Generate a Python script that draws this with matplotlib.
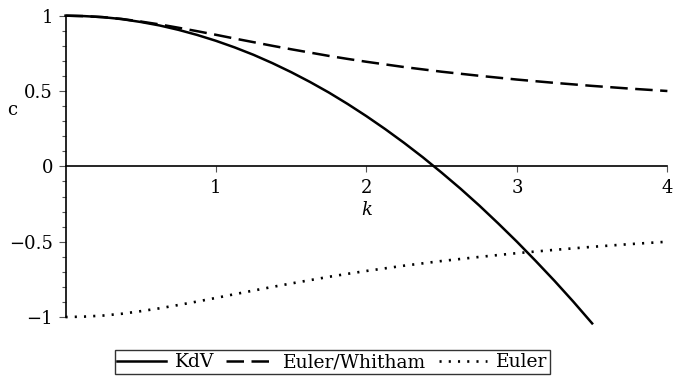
import matplotlib
matplotlib.use("Agg")
import matplotlib.pyplot as plt
from matplotlib.ticker import MultipleLocator

plt.rcParams['font.family'] = ['DejaVu Serif']

# values
k_kdv = [0.0, 0.125, 0.25, 0.375, 0.5, 0.625, 0.75, 0.875, 1.0, 1.125, 1.25, 1.375,
         1.5, 1.625, 1.75, 1.875, 2.0, 2.125, 2.25, 2.375, 2.5, 2.625, 2.75, 2.875,
         3.0, 3.125, 3.25, 3.375, 3.5]
c_kdv = [1.0, 0.997, 0.990, 0.977, 0.958, 0.935, 0.906, 0.872, 0.833, 0.789, 0.740,
         0.685, 0.625, 0.560, 0.490, 0.414, 0.333, 0.247, 0.156, 0.060, -0.042,
         -0.148, -0.260, -0.378, -0.500, -0.628, -0.760, -0.898, -1.042]

k_wave = [0.0, 0.125, 0.25, 0.375, 0.5, 0.625, 0.75, 0.875, 1.0, 1.125, 1.25, 1.375,
          1.5, 1.625, 1.75, 1.875, 2.0, 2.25, 2.5, 2.75, 3.0, 3.25, 3.5, 3.75, 4.0]
c_whitham = [1.0, 0.997, 0.990, 0.978, 0.961, 0.942, 0.920, 0.897, 0.873, 0.848,
             0.824, 0.800, 0.777, 0.755, 0.733, 0.713, 0.694, 0.659, 0.628, 0.601,
             0.576, 0.554, 0.534, 0.516, 0.500]
c_euler = [-1.0, -0.997, -0.990, -0.978, -0.961, -0.942, -0.920, -0.897, -0.873, -0.848,
           -0.824, -0.800, -0.777, -0.755, -0.733, -0.713, -0.694, -0.659, -0.628, -0.601,
           -0.576, -0.554, -0.534, -0.516, -0.500]

xticks = [1, 2, 3, 4]
yticks = [-1, -0.5, 0, 0.5, 1]
ytick_labels = ['\u22121', '\u22120.5', '0', '0.5', '1']

fig = plt.figure(figsize=(6.74, 3.82), dpi=100)
ax = fig.add_axes([0.0972, 0.170, 0.893, 0.789])

ax.plot(k_kdv, c_kdv, color='black', lw=1.8, label='KdV', clip_on=False)
ax.plot(k_wave, c_whitham, color='black', lw=1.8, dashes=(7, 3), label='Euler/Whitham',
        clip_on=False)
ax.plot(k_wave, c_euler, color='black', lw=1.9, dashes=(0.8, 2.7), label='Euler',
        clip_on=False)

ax.set_xlim(0, 4)
ax.set_ylim(-1, 1)

# maple style axes through the origin
ax.spines['left'].set_position(('data', 0))
ax.spines['bottom'].set_position(('data', 0))
ax.spines['top'].set_visible(False)
ax.spines['right'].set_visible(False)
for s in ['left', 'bottom']:
    ax.spines[s].set_linewidth(1.2)

ax.set_xticks(xticks)
ax.set_xticklabels([str(t) for t in xticks])
ax.set_yticks(yticks)
ax.set_yticklabels(ytick_labels)
ax.yaxis.set_minor_locator(MultipleLocator(0.1))
ax.tick_params(axis='x', direction='out', length=4, width=0.8, color='#555555',
               labelsize=13, pad=5)
ax.tick_params(axis='y', which='major', direction='out', length=5, width=0.8,
               color='#555555', labelsize=13, pad=4)
ax.tick_params(axis='y', which='minor', direction='out', length=3, width=0.8,
               color='#555555')

ax.text(2, -0.29, 'k', style='italic', fontsize=13, ha='center', va='center')
ax.text(-0.089, 0.373, 'c', fontsize=13, ha='center', va='center',
        transform=ax.get_yaxis_transform())

leg = fig.legend(loc='center', bbox_to_anchor=(0.493, 0.052), ncol=3, fontsize=13.5,
                 frameon=True, fancybox=False, handlelength=2.6, handletextpad=0.45,
                 columnspacing=0.65, borderpad=0.15, borderaxespad=0)
leg.get_frame().set_edgecolor('black')
leg.get_frame().set_linewidth(1.0)

fig.savefig('out.png', dpi=100)
